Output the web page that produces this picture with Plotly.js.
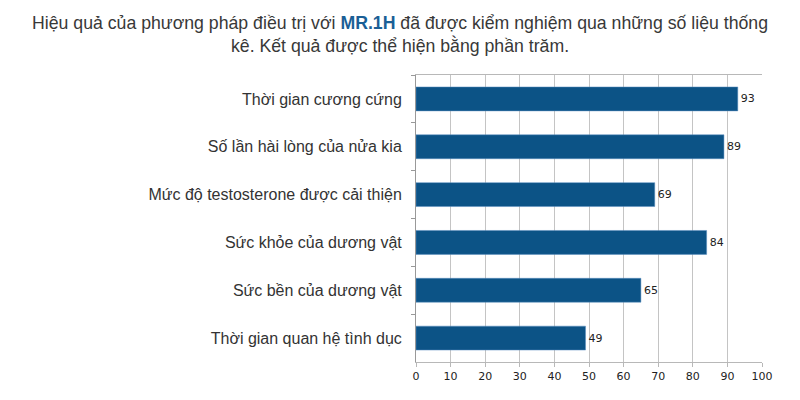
<!DOCTYPE html>
<html>
<head>
<meta charset="utf-8">
<script src="https://cdn.plot.ly/plotly-3.0.1.min.js"></script>
<style>body{margin:0;background:#fff}</style>
</head>
<body>
<div id="chart" style="width:800px;height:400px"></div>
<script>
// categories top to bottom
const categories = [
  'Thời gian cương cứng',
  'Số lần hài lòng của nửa kia',
  'Mức độ testosterone được cải thiện',
  'Sức khỏe của dương vật',
  'Sức bền của dương vật',
  'Thời gian quan hệ tình dục'
];
const percents = [93, 89, 69, 84, 65, 49];
const xTicks = [0, 10, 20, 30, 40, 50, 60, 70, 80, 90, 100];

const trace = {
  type: 'bar',
  orientation: 'h',
  y: categories,
  x: percents,
  text: percents.map(String),
  textposition: 'outside',
  textfont: {family: 'DejaVu Sans', size: 11, color: '#222'},
  cliponaxis: false,
  marker: {color: '#0c5386', line: {color: '#5b8fc0', width: 0.5}},
  width: 0.5,
  hoverinfo: 'none'
};

// plot area spans 416..762 px, centre of page is 400
const titleX = (400 - 416) / (762 - 416);

const layout = {
  width: 800, height: 400,
  margin: {l: 416, r: 38, t: 75, b: 38},
  paper_bgcolor: '#fff', plot_bgcolor: '#fff',
  font: {family: 'Liberation Sans, Arial, sans-serif', color: '#333'},
  showlegend: false,
  xaxis: {
    range: [0, 100],
    tickvals: xTicks,
    ticktext: xTicks.map(String),
    tickfont: {family: 'DejaVu Sans', size: 11, color: '#222'},
    showgrid: true, gridcolor: '#c4c4c4', gridwidth: 1,
    zeroline: false,
    showline: true, linecolor: '#b8b8b8', linewidth: 1, mirror: true,
    ticks: 'outside', ticklen: 4, tickcolor: '#b8b8b8'
  },
  yaxis: {
    autorange: 'reversed',
    tickfont: {size: 16, color: '#333'},
    ticks: 'outside', tickson: 'boundaries', ticklen: 4, tickcolor: '#999',
    showline: true, linecolor: '#999', linewidth: 1,
    showgrid: false,
    ticklabelstandoff: 10
  },
  annotations: [{
    xref: 'paper', yref: 'paper', x: titleX, y: 1,
    xanchor: 'center', yanchor: 'bottom', yshift: 17,
    showarrow: false, align: 'center',
    font: {family: 'Liberation Sans, Arial, sans-serif', size: 17.7, color: '#383838'},
    text: 'Hiệu quả của phương pháp điều trị với <b><span style="color:#1a5f96">MR.1H</span></b> đã được kiểm nghiệm qua những số liệu thống<br>kê. Kết quả được thể hiện bằng phần trăm.'
  }]
};

Plotly.newPlot('chart', [trace], layout, {displayModeBar: false, staticPlot: true});
</script>
</body>
</html>
